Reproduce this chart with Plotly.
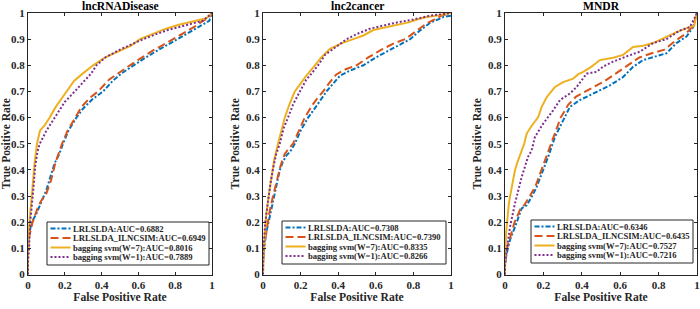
import plotly.graph_objects as go

# ---------------- data ----------------
panel_titles = ["lncRNADisease", "lnc2cancer", "MNDR"]
series_names = ["LRLSLDA", "LRLSLDA_ILNCSIM", "bagging svm(W=7)", "bagging svm(W=1)"]
auc_values = [
    [0.6882, 0.6949, 0.8016, 0.7889],
    [0.7308, 0.7390, 0.8335, 0.8266],
    [0.6346, 0.6435, 0.7527, 0.7216],
]
x_tick_vals = [0, 0.2, 0.4, 0.6, 0.8, 1]
x_tick_text = ["0", "0.2", "0.4", "0.6", "0.8", "1"]
y_tick_vals = [0, 0.1, 0.2, 0.3, 0.4, 0.5, 0.6, 0.7, 0.8, 0.9, 1]
y_tick_text = ["0", "0.1", "0.2", "0.3", "0.4", "0.5", "0.6", "0.7", "0.8", "0.9", "1"]

# panel 1: lncRNADisease
p1_lrlslda_x = [0, 0, 0.005, 0.02, 0.046, 0.064, 0.1, 0.12, 0.145, 0.17, 0.19, 0.22, 0.263, 0.3, 0.35, 0.408, 0.46, 0.51, 0.572, 0.64, 0.7, 0.75, 0.808, 0.86, 0.92, 0.96, 0.985, 1]
p1_lrlslda_y = [0, 0.1, 0.15, 0.2, 0.233, 0.265, 0.323, 0.37, 0.426, 0.46, 0.5, 0.55, 0.6, 0.635, 0.67, 0.7, 0.74, 0.77, 0.8, 0.83, 0.855, 0.875, 0.9, 0.92, 0.945, 0.96, 0.97, 1]
p1_ilncsim_x = [0, 0, 0.005, 0.025, 0.05, 0.07, 0.1, 0.125, 0.15, 0.17, 0.185, 0.215, 0.255, 0.29, 0.335, 0.381, 0.44, 0.5, 0.554, 0.62, 0.68, 0.735, 0.79, 0.85, 0.91, 0.95, 0.98, 1]
p1_ilncsim_y = [0, 0.08, 0.14, 0.2, 0.25, 0.28, 0.31, 0.36, 0.43, 0.47, 0.5, 0.55, 0.6, 0.64, 0.675, 0.7, 0.745, 0.775, 0.8, 0.83, 0.857, 0.878, 0.9, 0.925, 0.95, 0.97, 0.98, 1]
p1_w7_x = [0, 0, 0.005, 0.012, 0.022, 0.035, 0.049, 0.065, 0.09, 0.118, 0.15, 0.18, 0.209, 0.25, 0.3, 0.354, 0.42, 0.5, 0.56, 0.608, 0.68, 0.75, 0.82, 0.88, 0.93, 0.97, 1]
p1_w7_y = [0, 0.12, 0.18, 0.25, 0.31, 0.42, 0.5, 0.55, 0.57, 0.6, 0.64, 0.67, 0.7, 0.74, 0.77, 0.8, 0.83, 0.855, 0.875, 0.9, 0.92, 0.94, 0.955, 0.965, 0.975, 0.98, 1]
p1_w1_x = [0, 0, 0.005, 0.012, 0.027, 0.04, 0.054, 0.064, 0.1, 0.145, 0.2, 0.254, 0.3, 0.345, 0.372, 0.42, 0.5, 0.56, 0.626, 0.7, 0.76, 0.84, 0.9, 0.95, 1]
p1_w1_y = [0, 0.05, 0.09, 0.2, 0.31, 0.42, 0.477, 0.5, 0.55, 0.6, 0.66, 0.7, 0.735, 0.77, 0.8, 0.83, 0.86, 0.88, 0.9, 0.92, 0.935, 0.95, 0.96, 0.97, 1]

# panel 2: lnc2cancer
p2_lrlslda_x = [0, 0, 0.009, 0.02, 0.036, 0.05, 0.062, 0.075, 0.089, 0.105, 0.125, 0.145, 0.169, 0.2, 0.24, 0.28, 0.31, 0.338, 0.373, 0.409, 0.463, 0.534, 0.6, 0.676, 0.747, 0.783, 0.83, 0.89, 0.93, 0.96, 1, 1]
p2_lrlslda_y = [0, 0.05, 0.119, 0.17, 0.221, 0.27, 0.31, 0.36, 0.399, 0.43, 0.456, 0.47, 0.5, 0.55, 0.6, 0.64, 0.67, 0.7, 0.73, 0.76, 0.78, 0.8, 0.83, 0.86, 0.886, 0.9, 0.93, 0.963, 0.975, 0.985, 0.99, 1]
p2_ilncsim_x = [0, 0, 0.008, 0.02, 0.035, 0.05, 0.065, 0.08, 0.095, 0.115, 0.13, 0.16, 0.19, 0.222, 0.26, 0.29, 0.32, 0.355, 0.39, 0.44, 0.498, 0.56, 0.63, 0.7, 0.756, 0.82, 0.87, 0.91, 0.95, 1]
p2_ilncsim_y = [0, 0.05, 0.12, 0.18, 0.24, 0.29, 0.33, 0.38, 0.42, 0.46, 0.475, 0.5, 0.55, 0.6, 0.645, 0.675, 0.7, 0.735, 0.765, 0.785, 0.8, 0.83, 0.86, 0.885, 0.9, 0.935, 0.96, 0.975, 0.99, 1]
p2_w7_x = [0, 0, 0.002, 0.01, 0.018, 0.03, 0.045, 0.06, 0.08, 0.1, 0.116, 0.14, 0.169, 0.2, 0.23, 0.276, 0.31, 0.356, 0.42, 0.48, 0.534, 0.587, 0.65, 0.712, 0.78, 0.819, 0.87, 0.925, 0.97, 1]
p2_w7_y = [0, 0.03, 0.06, 0.15, 0.234, 0.3, 0.38, 0.44, 0.5, 0.56, 0.6, 0.65, 0.7, 0.73, 0.76, 0.8, 0.83, 0.863, 0.885, 0.9, 0.914, 0.935, 0.945, 0.955, 0.965, 0.975, 0.985, 0.99, 0.995, 1]
p2_w1_x = [0, 0, 0.003, 0.012, 0.025, 0.04, 0.055, 0.07, 0.089, 0.11, 0.133, 0.16, 0.196, 0.23, 0.26, 0.293, 0.33, 0.39, 0.445, 0.5, 0.569, 0.658, 0.72, 0.8, 0.89, 0.95, 1]
p2_w1_y = [0, 0.02, 0.1, 0.2, 0.28, 0.35, 0.41, 0.46, 0.5, 0.56, 0.6, 0.65, 0.7, 0.745, 0.77, 0.8, 0.84, 0.87, 0.9, 0.92, 0.94, 0.955, 0.965, 0.975, 0.99, 0.995, 1]

# panel 3: MNDR
p3_lrlslda_x = [0, 0, 0.009, 0.026, 0.052, 0.087, 0.113, 0.139, 0.165, 0.199, 0.225, 0.26, 0.303, 0.338, 0.39, 0.459, 0.494, 0.546, 0.615, 0.667, 0.719, 0.788, 0.841, 0.893, 0.945, 0.98, 1]
p3_lrlslda_y = [0, 0.04, 0.081, 0.132, 0.182, 0.253, 0.265, 0.297, 0.335, 0.399, 0.45, 0.526, 0.59, 0.641, 0.667, 0.692, 0.704, 0.723, 0.755, 0.794, 0.82, 0.834, 0.846, 0.885, 0.91, 0.946, 1]
p3_ilncsim_x = [0, 0, 0.01, 0.03, 0.05, 0.08, 0.1, 0.13, 0.16, 0.19, 0.215, 0.25, 0.29, 0.33, 0.37, 0.42, 0.46, 0.52, 0.58, 0.64, 0.7, 0.76, 0.83, 0.89, 0.94, 0.98, 1]
p3_ilncsim_y = [0, 0.05, 0.1, 0.15, 0.2, 0.25, 0.265, 0.3, 0.34, 0.4, 0.45, 0.52, 0.6, 0.65, 0.68, 0.7, 0.715, 0.74, 0.77, 0.8, 0.83, 0.845, 0.86, 0.895, 0.92, 0.95, 1]
p3_w7_x = [0, 0, 0.002, 0.006, 0.012, 0.02, 0.026, 0.04, 0.052, 0.065, 0.085, 0.1, 0.113, 0.14, 0.173, 0.191, 0.217, 0.24, 0.26, 0.303, 0.355, 0.38, 0.407, 0.451, 0.494, 0.563, 0.615, 0.667, 0.72, 0.771, 0.841, 0.893, 0.962, 0.985, 1]
p3_w7_y = [0, 0.05, 0.1, 0.16, 0.221, 0.27, 0.297, 0.35, 0.399, 0.43, 0.47, 0.5, 0.539, 0.57, 0.602, 0.641, 0.678, 0.7, 0.717, 0.736, 0.749, 0.765, 0.775, 0.795, 0.82, 0.829, 0.84, 0.87, 0.875, 0.885, 0.908, 0.927, 0.946, 0.95, 1]
p3_w1_x = [0, 0, 0.009, 0.026, 0.052, 0.07, 0.087, 0.12, 0.139, 0.156, 0.199, 0.251, 0.286, 0.338, 0.373, 0.425, 0.477, 0.511, 0.563, 0.633, 0.702, 0.771, 0.841, 0.91, 0.962, 0.98, 1]
p3_w1_y = [0, 0.04, 0.093, 0.182, 0.272, 0.32, 0.373, 0.45, 0.475, 0.526, 0.577, 0.628, 0.667, 0.692, 0.717, 0.768, 0.775, 0.795, 0.814, 0.834, 0.852, 0.885, 0.9, 0.933, 0.946, 0.97, 1]

panel_curves = [
    [(p1_lrlslda_x, p1_lrlslda_y), (p1_ilncsim_x, p1_ilncsim_y), (p1_w7_x, p1_w7_y), (p1_w1_x, p1_w1_y)],
    [(p2_lrlslda_x, p2_lrlslda_y), (p2_ilncsim_x, p2_ilncsim_y), (p2_w7_x, p2_w7_y), (p2_w1_x, p2_w1_y)],
    [(p3_lrlslda_x, p3_lrlslda_y), (p3_ilncsim_x, p3_ilncsim_y), (p3_w7_x, p3_w7_y), (p3_w1_x, p3_w1_y)],
]

# ---------------- style / layout ----------------
W, H = 700, 309
colors = ["#0072BD", "#D95319", "#EDB120", "#7E2F8E"]
dashes = ["5px,2px,2px,2px", "8px,4px", "solid", "2px,2px"]
FONT = "Liberation Serif"
AX = "#262626"

x_px = [(28, 212), (263, 451), (505, 697)]
y_px = (13, 274.5)
legend_box_px = [(47, 222, 209, 265), (282, 221, 446, 264), (531, 220, 693, 263)]
LEG_ROW0, LEG_ROW_STEP, LEG_LINE0, LEG_LINE1, LEG_TEXT = 6.5, 9.5, 3.5, 23.5, 24.5


def px_x(v):
    return v / W


def px_y(v):
    return 1 - v / H


fig = go.Figure()
shapes, annotations = [], []
layout = dict(
    width=W, height=H,
    margin=dict(l=0, r=0, t=0, b=0, autoexpand=False),
    paper_bgcolor="white", plot_bgcolor="white",
    font=dict(family=FONT, size=11, color="black"),
    showlegend=False,
)

for p in range(3):
    sfx = "" if p == 0 else str(p + 1)
    for s in range(4):
        xs, ys = panel_curves[p][s]
        fig.add_trace(go.Scatter(
            x=xs, y=ys, mode="lines",
            name=f"{series_names[s]}:AUC={auc_values[p][s]:.4f}",
            line=dict(color=colors[s], dash=dashes[s], width=2),
            xaxis="x" + sfx, yaxis="y" + sfx,
        ))
    xd = [px_x(x_px[p][0]), px_x(x_px[p][1])]
    yd = [px_y(y_px[1]), px_y(y_px[0])]
    common = dict(showgrid=False, zeroline=False, showline=True, linecolor=AX, linewidth=1,
                  mirror="ticks", ticks="inside", ticklen=3, tickcolor=AX, automargin=False,
                  tickfont=dict(family=FONT, size=11, weight="bold", color=AX))
    layout["xaxis" + sfx] = dict(common, domain=xd, range=[0, 1], tickvals=x_tick_vals, ticktext=x_tick_text,
                                 anchor="y" + sfx,
                                 title=dict(text="False Positive Rate", standoff=1,
                                            font=dict(family=FONT, size=11.6, weight="bold", color=AX)))
    layout["yaxis" + sfx] = dict(common, domain=yd, range=[0, 1], tickvals=y_tick_vals, ticktext=y_tick_text,
                                 anchor="x" + sfx,
                                 title=dict(text="True Positive Rate", standoff=3,
                                            font=dict(family=FONT, size=11.6, weight="bold", color=AX)))
    annotations.append(dict(
        text=panel_titles[p], x=(xd[0] + xd[1]) / 2, y=px_y(6.5), xref="paper", yref="paper",
        showarrow=False, font=dict(family=FONT, size=11.6, weight="bold", color="black"),
        xanchor="center", yanchor="middle"))

    # legend box drawn in the figure's own paper space
    bx0, by0, bx1, by1 = legend_box_px[p]
    shapes.append(dict(type="rect", xref="paper", yref="paper",
                       x0=px_x(bx0), x1=px_x(bx1), y0=px_y(by1), y1=px_y(by0),
                       line=dict(color=AX, width=1), fillcolor="white", layer="above"))
    for s in range(4):
        ry = by0 + LEG_ROW0 + s * LEG_ROW_STEP
        shapes.append(dict(type="line", xref="paper", yref="paper",
                           x0=px_x(bx0 + LEG_LINE0), x1=px_x(bx0 + LEG_LINE1), y0=px_y(ry), y1=px_y(ry),
                           line=dict(color=colors[s], width=2, dash=dashes[s]), layer="above"))
        annotations.append(dict(
            text=f"{series_names[s]}:AUC={auc_values[p][s]:.4f}",
            x=px_x(bx0 + LEG_TEXT), y=px_y(ry), xref="paper", yref="paper",
            showarrow=False, xanchor="left", yanchor="middle", borderpad=0,
            font=dict(family=FONT, size=8.6, weight="bold", color=AX)))

layout["shapes"] = shapes
layout["annotations"] = annotations
fig.update_layout(**layout)
fig.write_html("out.html", config={"displayModeBar": False},
               post_script="document.body.style.margin='0';document.body.style.overflow='hidden';")
